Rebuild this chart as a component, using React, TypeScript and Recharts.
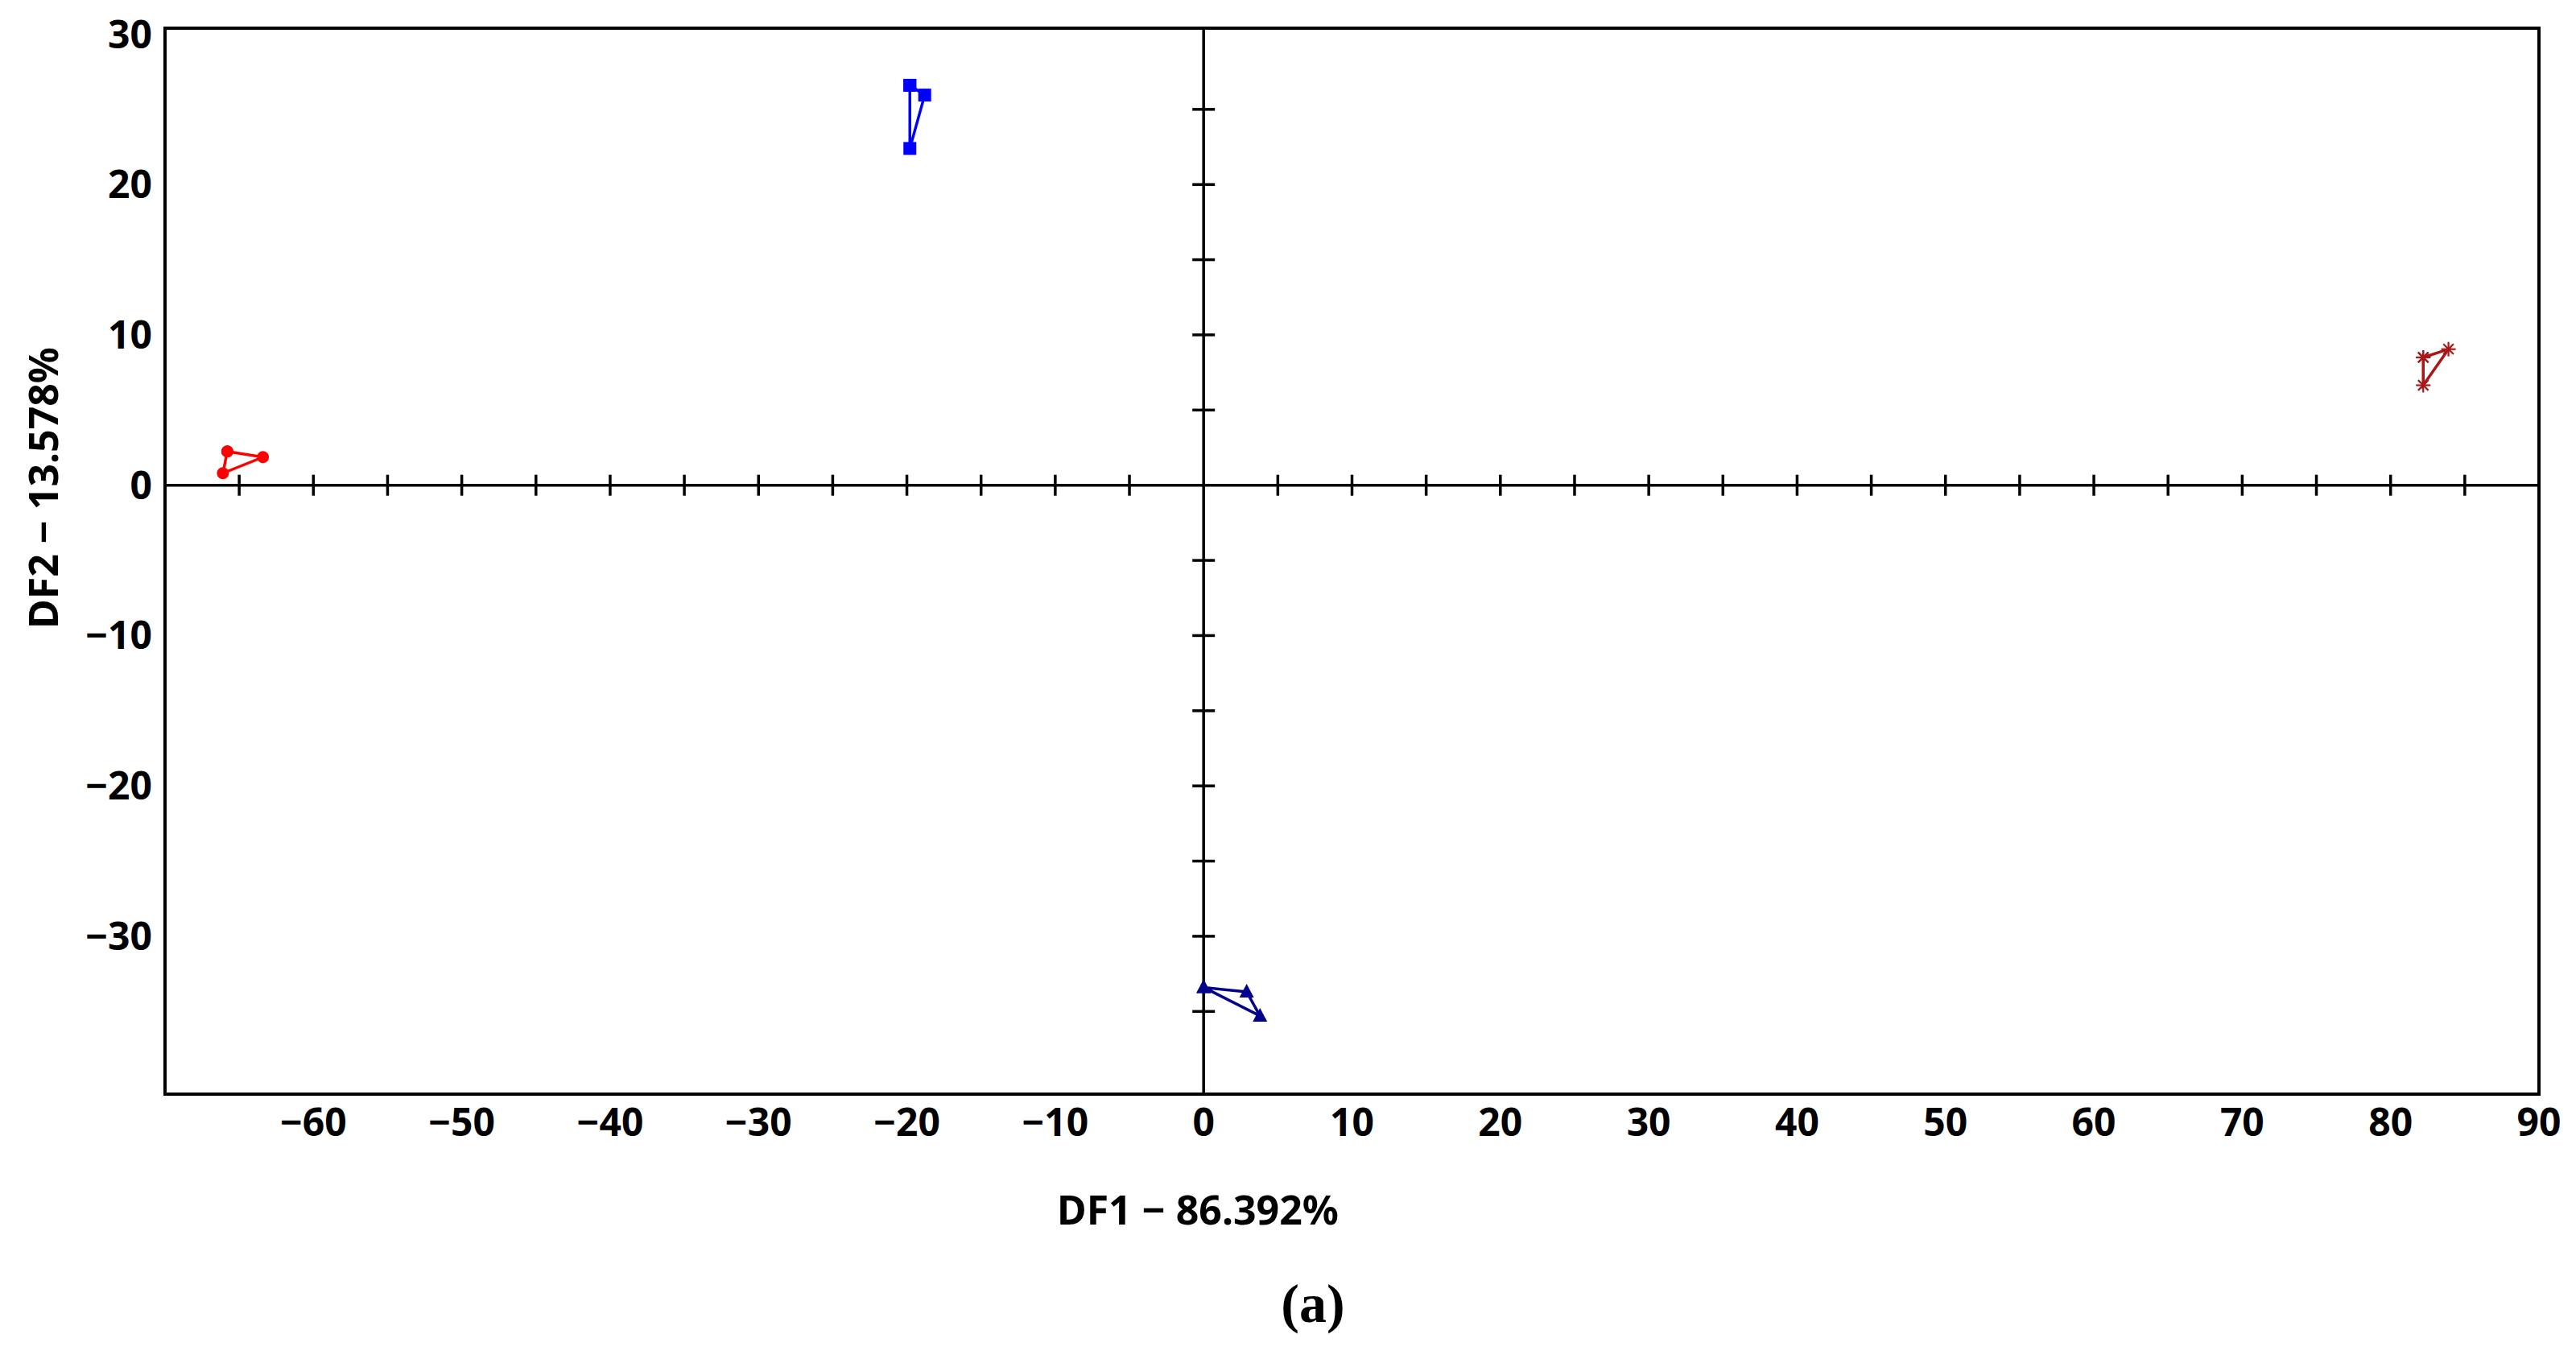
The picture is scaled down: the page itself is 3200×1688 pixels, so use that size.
import React from "react";
import { ScatterChart, Scatter, XAxis, YAxis, ReferenceLine, ReferenceArea, Label } from "recharts";

// ---- data ----
const group1X = [-65.8, -63.4, -66.1];
const group1Y = [2.25, 1.87, 0.8];
const group2X = [-19.8, -18.8, -19.8];
const group2Y = [26.6, 25.95, 22.4];
const group3X = [82.2, 83.9, 82.2];
const group3Y = [8.5, 9.05, 6.65];
const group4X = [0.0, 2.9, 3.8];
const group4Y = [-33.4, -33.7, -35.3];

const xTicks = [-60, -50, -40, -30, -20, -10, 0, 10, 20, 30, 40, 50, 60, 70, 80, 90];
const yTicks = [-30, -20, -10, 0, 10, 20, 30];
const hAxisMinor = [-65, -60, -55, -50, -45, -40, -35, -30, -25, -20, -15, -10, -5, 5, 10, 15, 20, 25, 30, 35, 40, 45, 50, 55, 60, 65, 70, 75, 80, 85];
const vAxisMinor = [25, 20, 15, 10, 5, -5, -10, -15, -20, -25, -30, -35];

const X_DOMAIN: [number, number] = [-70, 90];
const Y_DOMAIN: [number, number] = [-40.5, 30.4];

const closed = (xs: number[], ys: number[]) => {
  const pts = xs.map((x, i) => ({ x, y: ys[i] }));
  return [...pts, pts[0]];
};

const d1 = closed(group1X, group1Y);
const d2 = closed(group2X, group2Y);
const d3 = closed(group3X, group3Y);
const d4 = closed(group4X, group4Y);
const hTickData = hAxisMinor.map((x) => ({ x, y: 0 }));
const vTickData = vAxisMinor.map((y) => ({ x: 0, y }));

const RED = "#ff0000";
const BLUE = "#0000ff";
const DARKRED = "#a81818";
const NAVY = "#00008c";

const fmt = (v: number) => (v < 0 ? "\u2212" + Math.abs(v) : String(v));

const CircleShape = (p: any) => <circle cx={p.cx} cy={p.cy} r={7.5} fill={RED} />;
const SquareShape = (p: any) => <rect x={p.cx - 8} y={p.cy - 8} width={16} height={16} fill={BLUE} />;
const TriShape = (p: any) => (
  <polygon points={`${p.cx},${p.cy - 10} ${p.cx - 9},${p.cy + 7} ${p.cx + 9},${p.cy + 7}`} fill={NAVY} />
);
const StarShape = (p: any) => {
  const r = 9;
  const lines = [0, 45, 90, 135].map((a) => {
    const rad = (a * Math.PI) / 180;
    return (
      <line
        key={a}
        x1={p.cx - r * Math.cos(rad)}
        y1={p.cy - r * Math.sin(rad)}
        x2={p.cx + r * Math.cos(rad)}
        y2={p.cy + r * Math.sin(rad)}
        stroke={DARKRED}
        strokeWidth={2.2}
      />
    );
  });
  return <g>{lines}</g>;
};
const HTick = (p: any) => <line x1={p.cx} y1={p.cy - 13} x2={p.cx} y2={p.cy + 13} stroke="#000" strokeWidth={3.5} />;
const VTick = (p: any) => <line x1={p.cx - 14} y1={p.cy} x2={p.cx + 14} y2={p.cy} stroke="#000" strokeWidth={3.5} />;

const FONT = "'Noto Sans', 'Open Sans', sans-serif";

export default function App() {
  return (
    <div style={{ position: "absolute", left: 0, top: 0, width: 3200, height: 1688, background: "#fff" }}>
      <ScatterChart width={3200} height={1688} margin={{ top: 35, right: 46, bottom: 229, left: 55 }}>
        <XAxis
          type="number"
          dataKey="x"
          domain={X_DOMAIN}
          ticks={xTicks}
          allowDataOverflow
          height={100}
          axisLine={false}
          tickLine={false}
          tickSize={0}
          tickMargin={18}
          tickFormatter={fmt}
          tick={{ fontFamily: FONT, fontSize: 48, fontWeight: 700, fill: "#000" }}
          interval={0}
        >
          <Label
            content={() => (
              <g>
                <text x={1488} y={1521} textAnchor="middle" fontFamily={FONT} fontSize={50} fontWeight={700} fill="#000">
                  DF1 − 86.392%
                </text>
                <text x={1631} y={1642} textAnchor="middle" fontFamily="'Liberation Serif', 'Times New Roman', serif" fontSize={68} fontWeight={700} fill="#000">
                  (a)
                </text>
              </g>
            )}
          />
        </XAxis>
        <YAxis
          type="number"
          dataKey="y"
          domain={Y_DOMAIN}
          ticks={yTicks}
          allowDataOverflow
          width={150}
          axisLine={false}
          tickLine={false}
          tickSize={0}
          tickMargin={16}
          tickFormatter={fmt}
          tick={{ fontFamily: FONT, fontSize: 48, fontWeight: 700, fill: "#000" }}
          interval={0}
        >
          <Label
            content={() => (
              <text
                x={0}
                y={0}
                transform="translate(72,606) rotate(-90)"
                textAnchor="middle"
                fontFamily={FONT}
                fontSize={50}
                fontWeight={700}
                fill="#000"
              >
                DF2 − 13.578%
              </text>
            )}
          />
        </YAxis>
        <ReferenceArea x1={X_DOMAIN[0]} x2={X_DOMAIN[1]} y1={Y_DOMAIN[0]} y2={Y_DOMAIN[1]} fill="none" fillOpacity={0} stroke="#000" strokeWidth={4} ifOverflow="visible" />
        <ReferenceLine x={0} stroke="#000" strokeWidth={3.5} />
        <ReferenceLine y={0} stroke="#000" strokeWidth={3.5} />
        <Scatter data={hTickData} shape={HTick} isAnimationActive={false} />
        <Scatter data={vTickData} shape={VTick} isAnimationActive={false} />
        <Scatter data={d1} shape={CircleShape} line={{ stroke: RED, strokeWidth: 3.5 }} isAnimationActive={false} />
        <Scatter data={d2} shape={SquareShape} line={{ stroke: BLUE, strokeWidth: 3.5 }} isAnimationActive={false} />
        <Scatter data={d3} shape={StarShape} line={{ stroke: DARKRED, strokeWidth: 3.5 }} isAnimationActive={false} />
        <Scatter data={d4} shape={TriShape} line={{ stroke: NAVY, strokeWidth: 3.5 }} isAnimationActive={false} />
      </ScatterChart>
    </div>
  );
}
